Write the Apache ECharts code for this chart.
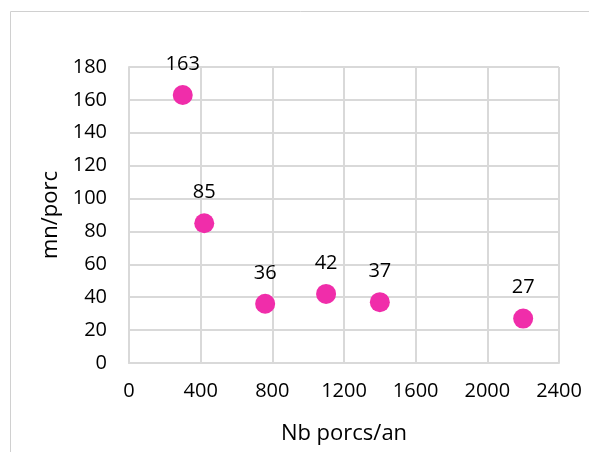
<!DOCTYPE html>
<html><head><meta charset="utf-8">
<script src="https://cdn.jsdelivr.net/npm/echarts@6/dist/echarts.min.js"></script>
<style>html,body{margin:0;padding:0;background:#fff}#c{width:589px;height:452px}</style>
</head><body><div id="c"></div>
<script>
const xValues = [300, 420, 760, 1100, 1400, 2200];
const yValues = [163, 85, 36, 42, 37, 27];
const xTitle = 'Nb porcs/an';
const yTitle = 'mn/porc';

const chart = echarts.init(document.getElementById('c'));
const font = 'Open Sans';
chart.setOption({
  animation: false,
  graphic: [{type:'rect', shape:{x:10.5, y:11.5, width:700, height:600}, style:{fill:'none', stroke:'#d0d0d0', lineWidth:1}, silent:true}],
  grid: {left:129, right:30, top:67, bottom:89},
  xAxis: {
    type:'value', min:0, max:2400, interval:400,
    name:xTitle, nameLocation:'middle', nameGap:60,
    nameTextStyle:{fontSize:22, color:'#000', fontFamily:font},
    axisLine:{show:true, lineStyle:{color:'#d9d9d9', width:2}},
    axisTick:{show:false},
    axisLabel:{fontSize:20, color:'#000', margin:18, fontFamily:font, formatter: v => String(v)},
    splitLine:{show:true, lineStyle:{color:'#d9d9d9', width:2}}
  },
  yAxis: {
    type:'value', min:0, max:180, interval:20,
    name:yTitle, nameLocation:'middle', nameGap:63, nameRotate:90,
    nameTextStyle:{fontSize:22, color:'#000', fontFamily:font},
    axisLine:{show:true, lineStyle:{color:'#d9d9d9', width:2}},
    axisTick:{show:false},
    axisLabel:{fontSize:20, color:'#000', margin:22, fontFamily:font, formatter: v => String(v)},
    splitLine:{show:true, lineStyle:{color:'#d9d9d9', width:2}}
  },
  series: [{
    type:'scatter',
    data: xValues.map((x,i)=>[x, yValues[i]]),
    symbolSize: 20,
    itemStyle:{color:'#F02DAA', opacity:1},
    label:{show:true, position:'top', distance:11, fontSize:20, color:'#000', fontFamily:font,
      formatter: p => p.value[1]}
  }]
});
</script></body></html>
